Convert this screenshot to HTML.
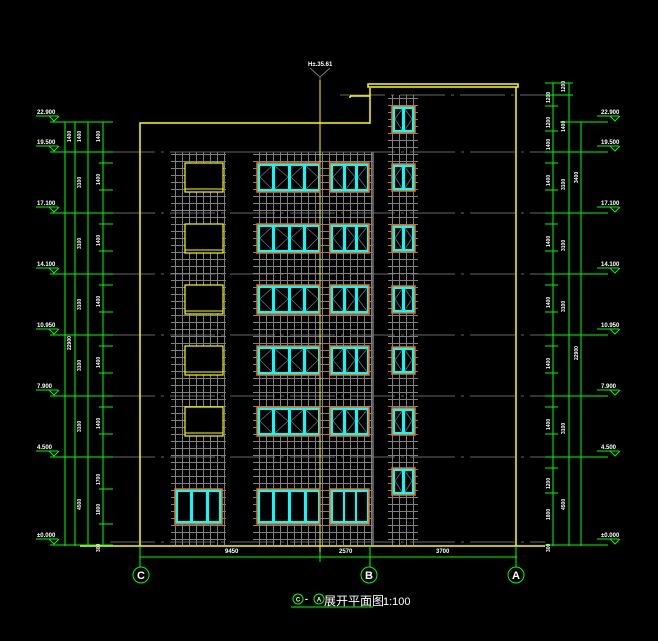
<!DOCTYPE html>
<html><head><meta charset="utf-8"><style>
html,body{margin:0;padding:0;background:#000;}
svg{display:block}
text{font-family:"Liberation Sans","Noto Sans CJK SC",sans-serif;fill:#fff;font-weight:bold}
</style></head><body>
<svg width="658" height="641" viewBox="0 0 658 641" xmlns="http://www.w3.org/2000/svg" font-size="6">
<defs>
<pattern id="g" x="0" y="0" width="7" height="7" patternUnits="userSpaceOnUse">
<path d="M0 0.5H7M0.5 0V7" stroke="#808080" stroke-width="1" fill="none"/>
</pattern>
<g id="w4">
<rect x="0" y="0" width="63" height="29" fill="#0ff" stroke="#f60" stroke-width="1.5"/>
<rect x="3" y="3" width="12" height="23" fill="#000"/><rect x="18" y="3" width="13" height="23" fill="#000"/>
<rect x="34" y="3" width="12" height="23" fill="#000"/><rect x="49" y="3" width="12" height="23" fill="#000"/>
<path d="M3 14L15 3M3 14L15 26M31 14L18 3M31 14L18 26M34 14L46 3M34 14L46 26M61 14L49 3M61 14L49 26" stroke="#777" stroke-width="0.7"/>
</g>
<g id="w3">
<rect x="0" y="0" width="39" height="29" fill="#0ff" stroke="#f60" stroke-width="1.5"/>
<rect x="3" y="3" width="10" height="23" fill="#000"/><rect x="16" y="3" width="9" height="23" fill="#000"/><rect x="28" y="3" width="9" height="23" fill="#000"/>
<path d="M3 14L13 3M3 14L13 26M25 14L16 3M25 14L16 26M28 14L37 3M28 14L37 26" stroke="#777" stroke-width="0.7"/>
</g>
<g id="w2">
<rect x="0" y="0" width="23" height="27" fill="#0ff" stroke="#f60" stroke-width="1.5"/>
<rect x="3" y="3" width="7" height="21" fill="#000"/><rect x="13" y="3" width="7" height="21" fill="#000"/>
<path d="M3 13L10 3M3 13L10 24M20 13L13 3M20 13L13 24" stroke="#777" stroke-width="0.7"/>
</g>
<g id="wy">
<rect x="0" y="0" width="38" height="29" fill="#000" stroke="#ff0" stroke-width="1.2"/>
<line x1="0" y1="26" x2="38" y2="26" stroke="#ff0" stroke-width="1"/>
</g>
<g id="lv"><line x1="0" y1="0" x2="22" y2="0" stroke="#0f0"/><path d="M13 0L18 5L23 0" stroke="#0f0" fill="none"/></g>
</defs>

<g stroke="#666" stroke-width="1" stroke-dasharray="45,6,3,6">
<line x1="110" y1="152" x2="545" y2="152"/><line x1="110" y1="213" x2="545" y2="213"/>
<line x1="110" y1="274" x2="545" y2="274"/><line x1="110" y1="335" x2="545" y2="335"/>
<line x1="110" y1="396" x2="545" y2="396"/><line x1="110" y1="457" x2="545" y2="457"/>
<line x1="340" y1="95" x2="545" y2="95"/><line x1="110" y1="542" x2="545" y2="542"/>
</g>

<rect x="171" y="152" width="55" height="393" fill="url(#g)"/>
<rect x="253" y="152" width="120" height="393" fill="url(#g)"/>
<line x1="373" y1="152" x2="373" y2="545" stroke="#777" stroke-width="1.5"/>
<rect x="388" y="95" width="30" height="450" fill="url(#g)"/>
<g stroke="#666"><line x1="171" y1="152" x2="373" y2="152"/></g>

<g stroke="#ff0" stroke-width="1.5" fill="none">
<path d="M140 546V123H370V88"/>
<rect x="368" y="84" width="150" height="3"/>
<line x1="516" y1="87" x2="516" y2="546"/>
<line x1="320" y1="80" x2="320" y2="560" stroke-width="1"/>
<line x1="80" y1="546" x2="545" y2="546"/>
<path d="M350 96H370M350 96V98"/>
</g>
<path d="M310 68L320 77L330 68M320 77V80" stroke="#777" fill="none"/>
<text x="308" y="66">H±.35.61</text>

<use href="#wy" x="185" y="163"/><use href="#wy" x="185" y="224"/><use href="#wy" x="185" y="285"/><use href="#wy" x="185" y="346"/><use href="#wy" x="185" y="407"/>
<use href="#w4" x="257" y="163"/><use href="#w4" x="257" y="224"/><use href="#w4" x="257" y="285"/><use href="#w4" x="257" y="346"/><use href="#w4" x="257" y="407"/>
<use href="#w3" x="330" y="163"/><use href="#w3" x="330" y="224"/><use href="#w3" x="330" y="285"/><use href="#w3" x="330" y="346"/><use href="#w3" x="330" y="407"/>
<use href="#w2" x="392" y="106"/><use href="#w2" x="392" y="164"/><use href="#w2" x="392" y="225"/><use href="#w2" x="392" y="286"/><use href="#w2" x="392" y="347"/><use href="#w2" x="392" y="408"/><use href="#w2" x="392" y="468"/>
<g>
<rect x="175" y="489" width="47" height="35" fill="#0ff" stroke="#f60" stroke-width="1.5"/>
<rect x="178" y="492" width="12" height="29" fill="#000"/><rect x="193" y="492" width="13" height="29" fill="#000"/><rect x="209" y="492" width="10" height="29" fill="#000"/>
<rect x="257" y="489" width="63" height="35" fill="#0ff" stroke="#f60" stroke-width="1.5"/>
<rect x="260" y="492" width="12" height="29" fill="#000"/><rect x="275" y="492" width="13" height="29" fill="#000"/><rect x="291" y="492" width="13" height="29" fill="#000"/><rect x="307" y="492" width="11" height="29" fill="#000"/>
<rect x="330" y="489" width="39" height="35" fill="#0ff" stroke="#f60" stroke-width="1.5"/>
<rect x="333" y="492" width="10" height="29" fill="#000"/><rect x="345" y="492" width="10" height="29" fill="#000"/><rect x="357" y="492" width="10" height="29" fill="#000"/>
</g>

<g stroke="#0f0" stroke-width="1">
<line x1="65" y1="122" x2="65" y2="546"/><line x1="75" y1="122" x2="75" y2="546"/>
<line x1="88" y1="122" x2="88" y2="546"/><line x1="103" y1="122" x2="103" y2="546"/>
<line x1="50" y1="122" x2="113" y2="122"/><line x1="50" y1="152" x2="113" y2="152"/>
<line x1="50" y1="213" x2="113" y2="213"/><line x1="50" y1="274" x2="113" y2="274"/>
<line x1="50" y1="335" x2="113" y2="335"/><line x1="50" y1="396" x2="113" y2="396"/>
<line x1="50" y1="457" x2="113" y2="457"/><line x1="50" y1="545" x2="113" y2="545"/>
<line x1="99" y1="163" x2="113" y2="163"/><line x1="99" y1="190" x2="113" y2="190"/>
<line x1="99" y1="224" x2="113" y2="224"/><line x1="99" y1="251" x2="113" y2="251"/>
<line x1="99" y1="285" x2="113" y2="285"/><line x1="99" y1="312" x2="113" y2="312"/>
<line x1="99" y1="346" x2="113" y2="346"/><line x1="99" y1="373" x2="113" y2="373"/>
<line x1="99" y1="407" x2="113" y2="407"/><line x1="99" y1="434" x2="113" y2="434"/>
<line x1="99" y1="489" x2="113" y2="489"/><line x1="99" y1="524" x2="113" y2="524"/>
</g>
<use href="#lv" x="36" y="116"/><use href="#lv" x="36" y="146"/><use href="#lv" x="36" y="207"/><use href="#lv" x="36" y="268"/>
<use href="#lv" x="36" y="329"/><use href="#lv" x="36" y="390"/><use href="#lv" x="36" y="451"/><use href="#lv" x="36" y="539"/>
<text x="37" y="114">22.900</text><text x="37" y="144">19.500</text><text x="37" y="205">17.100</text><text x="37" y="266">14.100</text>
<text x="37" y="327">10.950</text><text x="37" y="388">7.900</text><text x="37" y="449">4.500</text><text x="37" y="537">±0.000</text>
<g font-size="5">
<text transform="translate(71,142) rotate(-90)">1400</text><text transform="translate(81,142) rotate(-90)">1400</text><text transform="translate(100,142) rotate(-90)">1400</text>
<text transform="translate(81,188) rotate(-90)">3100</text><text transform="translate(81,249) rotate(-90)">3100</text><text transform="translate(81,310) rotate(-90)">3100</text>
<text transform="translate(81,371) rotate(-90)">3100</text><text transform="translate(81,432) rotate(-90)">3100</text><text transform="translate(81,510) rotate(-90)">4500</text>
<text transform="translate(71,350) rotate(-90)">22900</text>
<text transform="translate(100,185) rotate(-90)">1400</text><text transform="translate(100,246) rotate(-90)">1400</text><text transform="translate(100,307) rotate(-90)">1400</text>
<text transform="translate(100,368) rotate(-90)">1400</text><text transform="translate(100,429) rotate(-90)">1400</text><text transform="translate(100,515) rotate(-90)">1800</text>
<text transform="translate(100,485) rotate(-90)">1700</text><text transform="translate(100,552) rotate(-90)">300</text>
</g>

<g stroke="#0f0" stroke-width="1">
<line x1="553" y1="83" x2="553" y2="546"/><line x1="569" y1="83" x2="569" y2="546"/><line x1="581" y1="122" x2="581" y2="546"/>
<line x1="545" y1="83" x2="573" y2="83"/><line x1="545" y1="95" x2="573" y2="95"/><line x1="545" y1="106" x2="558" y2="106"/>
<line x1="560" y1="122" x2="608" y2="122"/><line x1="545" y1="131" x2="558" y2="131"/>
<line x1="545" y1="152" x2="608" y2="152"/><line x1="545" y1="163" x2="558" y2="163"/><line x1="545" y1="190" x2="558" y2="190"/>
<line x1="545" y1="213" x2="608" y2="213"/><line x1="545" y1="224" x2="558" y2="224"/><line x1="545" y1="251" x2="558" y2="251"/>
<line x1="545" y1="274" x2="608" y2="274"/><line x1="545" y1="285" x2="558" y2="285"/><line x1="545" y1="312" x2="558" y2="312"/>
<line x1="545" y1="335" x2="608" y2="335"/><line x1="545" y1="346" x2="558" y2="346"/><line x1="545" y1="373" x2="558" y2="373"/>
<line x1="545" y1="396" x2="608" y2="396"/><line x1="545" y1="407" x2="558" y2="407"/><line x1="545" y1="434" x2="558" y2="434"/>
<line x1="545" y1="457" x2="608" y2="457"/><line x1="545" y1="468" x2="558" y2="468"/><line x1="545" y1="493" x2="558" y2="493"/>
<line x1="545" y1="545" x2="608" y2="545"/>
</g>
<use href="#lv" x="597" y="116"/><use href="#lv" x="597" y="146"/><use href="#lv" x="597" y="207"/><use href="#lv" x="597" y="268"/>
<use href="#lv" x="597" y="329"/><use href="#lv" x="597" y="390"/><use href="#lv" x="597" y="451"/><use href="#lv" x="597" y="539"/>
<text x="601" y="114">22.900</text><text x="601" y="144">19.500</text><text x="601" y="205">17.100</text><text x="601" y="266">14.100</text>
<text x="601" y="327">10.950</text><text x="601" y="388">7.900</text><text x="601" y="449">4.500</text><text x="601" y="537">±0.000</text>
<g font-size="5">
<text transform="translate(550,103) rotate(-90)">1200</text><text transform="translate(550,128) rotate(-90)">1200</text><text transform="translate(550,150) rotate(-90)">1400</text>
<text transform="translate(565,92) rotate(-90)">1200</text><text transform="translate(565,132) rotate(-90)">1400</text><text transform="translate(578,183) rotate(-90)">3400</text>
<text transform="translate(550,186) rotate(-90)">1400</text><text transform="translate(550,247) rotate(-90)">1400</text><text transform="translate(550,308) rotate(-90)">1400</text>
<text transform="translate(550,369) rotate(-90)">1400</text><text transform="translate(550,430) rotate(-90)">1400</text><text transform="translate(550,489) rotate(-90)">1200</text>
<text transform="translate(550,520) rotate(-90)">1800</text><text transform="translate(550,552) rotate(-90)">300</text>
<text transform="translate(565,190) rotate(-90)">3100</text><text transform="translate(565,251) rotate(-90)">3100</text><text transform="translate(565,312) rotate(-90)">3100</text>
<text transform="translate(565,434) rotate(-90)">3100</text><text transform="translate(565,510) rotate(-90)">4500</text>
<text transform="translate(578,360) rotate(-90)">22900</text>
</g>

<g stroke="#0f0" stroke-width="1" fill="none">
<line x1="140" y1="546" x2="140" y2="567"/><line x1="370" y1="546" x2="370" y2="567"/><line x1="516" y1="546" x2="516" y2="567"/>
<line x1="140" y1="557" x2="517" y2="557"/><line x1="320" y1="552" x2="320" y2="562"/>
<circle cx="141" cy="575" r="8"/><circle cx="369" cy="575" r="8"/><circle cx="516" cy="575" r="8"/>
<line x1="291" y1="607" x2="373" y2="607"/>
<circle cx="298" cy="599" r="5"/><circle cx="319" cy="599" r="5"/>
</g>
<text x="225" y="553">9450</text><text x="339" y="553">2570</text><text x="436" y="553">3700</text>
<g text-anchor="middle" style="font-size:11px;font-weight:normal">
<text x="141" y="579">C</text><text x="369" y="579">B</text><text x="516" y="579">A</text>
</g>
<text x="298" y="601.5" text-anchor="middle" style="font-size:6px">C</text>
<text x="305" y="602" style="font-size:9px">-</text>
<text x="319" y="601.5" text-anchor="middle" style="font-size:6px">A</text>
<text x="324" y="605" style="font-size:12px;font-weight:normal">展开平面图</text>
<text x="383" y="605" style="font-size:11px;font-weight:normal">1:100</text>
</svg>
</body></html>
